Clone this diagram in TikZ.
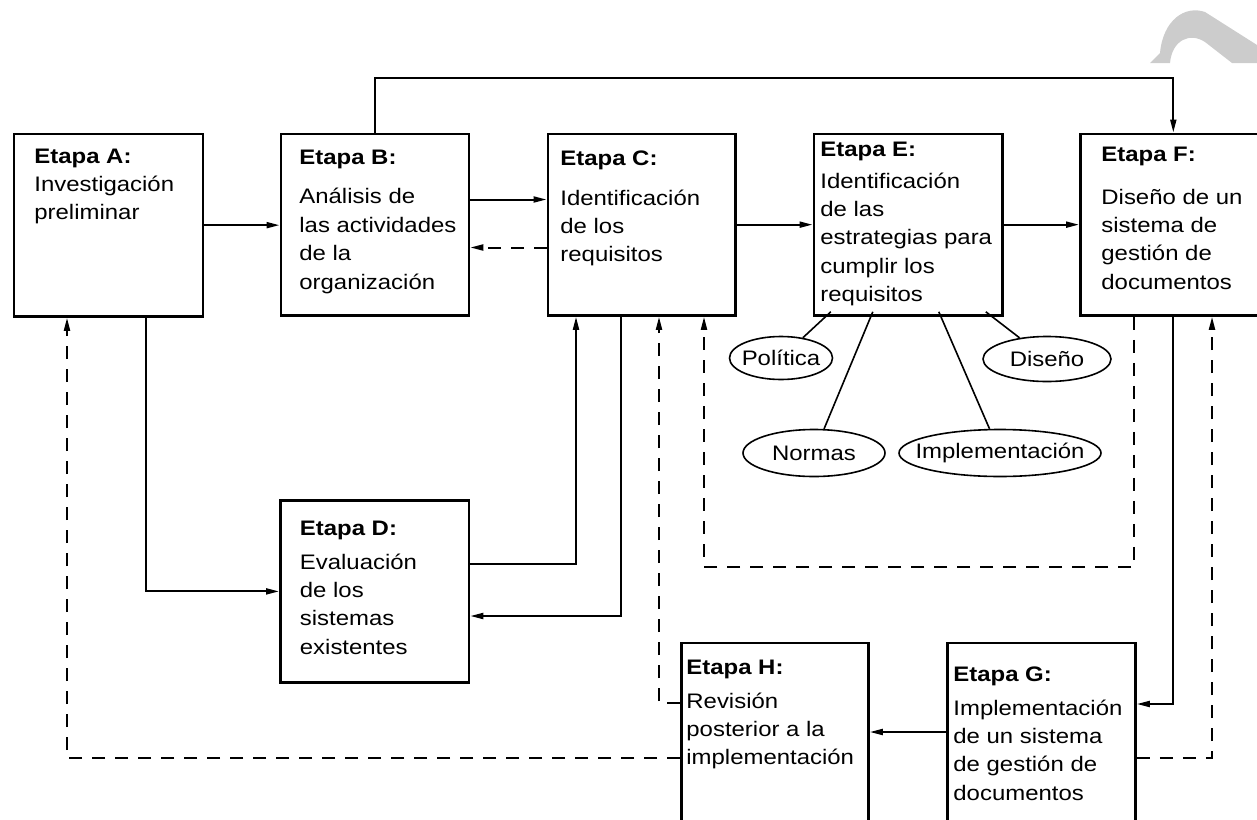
\documentclass[tikz,border=0pt]{standalone}
\usepackage{fontspec}
\setmainfont{Liberation Sans}[FakeStretch=1.14]
\usetikzlibrary{arrows.meta,shapes.geometric}
\newcommand{\etapa}[3]{\begin{tabular}[t]{@{}l@{}}\textbf{Etapa #1:}\\[#2]#3\end{tabular}}

\begin{document}
\begin{tikzpicture}[x=0.5pt,y=-0.5pt,
    caja/.style 2 args={draw,line width=1.4pt,anchor=north west,inner sep=0pt,minimum width=#1*0.5pt,minimum height=#2*0.5pt},
    texto/.style={anchor=base west,inner sep=0pt,font=\fontsize{10.5}{14.2}\selectfont},
    elipse/.style={draw,ellipse,line width=0.8pt,inner sep=0pt,font=\fontsize{10.5}{14.2}\selectfont},
    flecha/.style={line width=1pt,-{Triangle[length=6.5pt,width=3pt]}},
    discont/.style={dash pattern=on 6.5pt off 5pt}]
  \useasboundingbox (0,0) rectangle (1257,819);
  % marca de agua
  \fill[gray!40] (1150,63) -- (1160,53) .. controls (1163,20) and (1185,5) .. (1205,12) -- (1257,45) -- (1257,63) -- (1232,63) -- (1205,42) .. controls (1190,32) and (1172,40) .. (1170,63) -- cycle;
  % etapas
  \node[caja={189}{182.5}] (A) at (12.5,132.5) {};
  \node[caja={188}{181.5}] (B) at (279.5,132.5) {};
  \node[caja={187.5}{181.5}] (C) at (546.5,132.5) {};
  \node[caja={188.5}{181.5}] (E) at (812.5,132.5) {};
  \node[caja={200}{181.5}] (F) at (1079,132.5) {};
  \node[caja={188.5}{182}] (D) at (279,499) {};
  \node[caja={187}{200}] (H) at (680,641.5) {};
  \node[caja={188}{200}] (G) at (946,641.5) {};
  \node[texto] (At) at (34,163) {\etapa{A}{0pt}{Investigación\\preliminar}};
  \node[texto] (Bt) at (299,164.3) {\etapa{B}{5.6pt}{Análisis de\\las actividades\\de la\\organización}};
  \node[texto] (Ct) at (560,165) {\etapa{C}{5.8pt}{Identificación\\de los\\requisitos}};
  \node[texto] (Et) at (820,156) {\etapa{E}{1.8pt}{Identificación\\de las\\estrategias para\\cumplir los\\requisitos}};
  \node[texto] (Ft) at (1101,161.7) {\etapa{F}{7pt}{Diseño de un\\sistema de\\gestión de\\documentos}};
  \node[texto] (Dt) at (299.5,535) {\etapa{D}{2.8pt}{Evaluación\\de los\\sistemas\\existentes}};
  \node[texto] (Ht) at (686,674) {\etapa{H}{2.8pt}{Revisión\\posterior a la\\implementación}};
  \node[texto] (Gt) at (953,681) {\etapa{G}{2.8pt}{Implementación\\de un sistema\\de gestión de\\documentos}};
  % estrategias
  \foreach \nom/\txt/\px/\py/\ancho/\alto/\dx in {pol/Política/781/358/103/43/18.3, nor/Normas/814/453/142/47/60.3, imp/Implementación/1000/453/202/47/126.3, dis/Diseño/1047/359/128/45/173.3} {
    \node[elipse,minimum width=\ancho*0.5pt,minimum height=\alto*0.5pt] (\nom) at (\px,\py) {\makebox[0pt]{\txt}};
    \draw[line width=0.8pt] ([shift={(\dx,-5)}]E.south west) -- (\nom);
  }
  % conexiones
  \draw[flecha] (A.east) -- (A.east -| B.west);
  \draw[flecha] ([shift={(0,67)}]B.north east) -- ([shift={(0,67)}]C.north west);
  \draw[flecha,discont] ([shift={(0,115)}]C.north west) -- ([shift={(0,115)}]B.north east);
  \draw[flecha] (C.east) -- (C.east -| E.west);
  \draw[flecha] (E.east) -- (E.east -| F.west);
  \draw[flecha] (B.north) -- (B.north |- 0,78) -| ([shift={(94.3,0)}]F.north west);
  \draw[flecha] ([shift={(133.5,0)}]A.south west) |- (D.west);
  \draw[flecha] ([shift={(0,65)}]D.north east) -| ([shift={(29.5,0)}]C.south west);
  \draw[flecha] ([shift={(74.5,0)}]C.south west) |- ([shift={(0,117)}]D.north east);
  \draw[flecha,discont] ([shift={(0,61.5)}]H.north west) -| ([shift={(112.5,0)}]C.south west);
  \draw[flecha,discont] ([shift={(55,0)}]F.south west) -- ++(0,250) -| ([shift={(157.5,0)}]C.south west);
  \draw[flecha] ([shift={(94.3,0)}]F.south west) |- ([shift={(0,62.5)}]G.north east);
  \draw[flecha] ([shift={(0,90.5)}]G.north west) -- ([shift={(0,90.5)}]H.north east);
  \draw[flecha,discont] ([shift={(0,116.5)}]H.north west) -| ([shift={(54.5,0)}]A.south west);
  \draw[flecha,discont] ([shift={(0,116.5)}]G.north east) -| ([shift={(133,0)}]F.south west);
\end{tikzpicture}
\end{document}
